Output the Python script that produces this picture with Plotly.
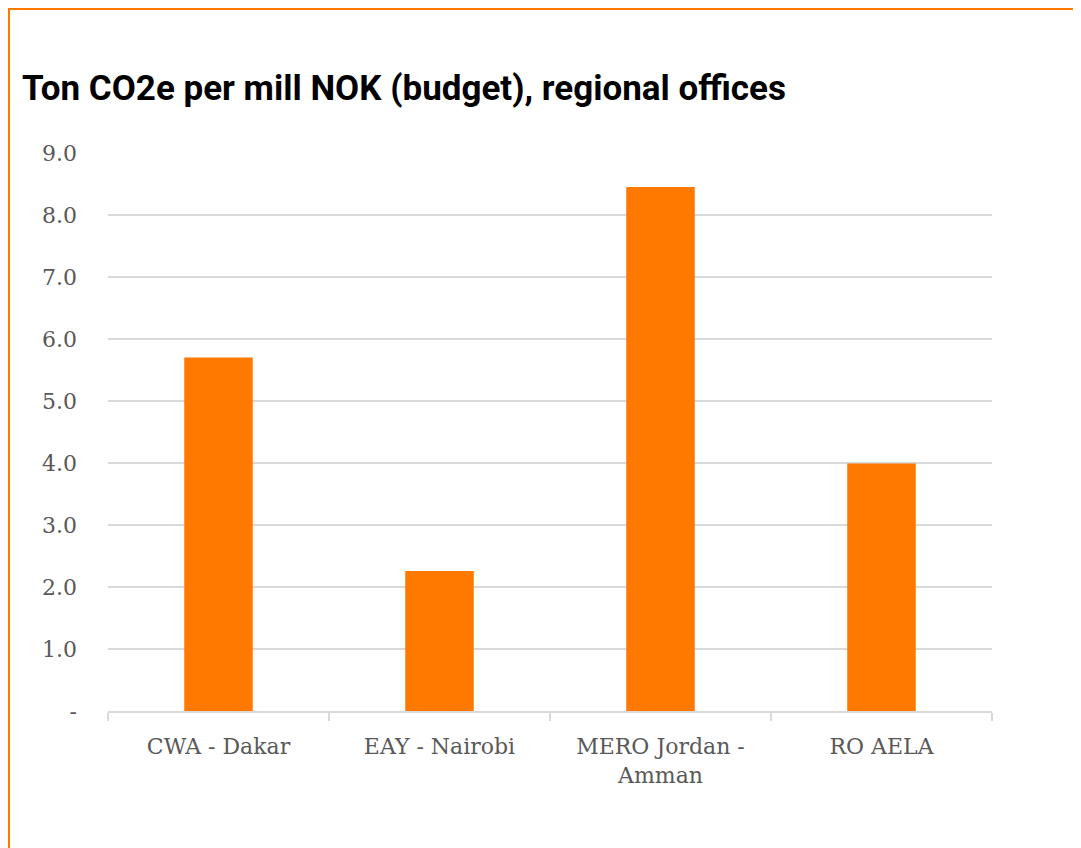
import plotly.graph_objects as go

# chart data
offices = ["CWA - Dakar", "EAY - Nairobi", "MERO Jordan -<br>Amman", "RO AELA"]
tons_per_mill = [5.7, 2.26, 8.45, 3.99]
y_ticks = [0, 1, 2, 3, 4, 5, 6, 7, 8, 9]
y_tick_text = ["-", "1.0", "2.0", "3.0", "4.0", "5.0", "6.0", "7.0", "8.0", "9.0"]

ORANGE = "#FF7800"
GRID = "#d9d9d9"
TEXT = "#595959"

W, H = 1081, 848
L, R, T, B = 100, 97, 145, 145

fig = go.Figure(
    go.Bar(
        x=offices,
        y=tons_per_mill,
        marker=dict(color=ORANGE, line=dict(width=0)),
        hoverinfo="x+y",
    )
)

# orange frame around the chart area (runs off the right and bottom edges)
pw, ph = W - L - R, H - T - B
fig.add_shape(
    type="rect",
    xref="paper",
    yref="paper",
    x0=(0 - L) / pw,
    x1=(W + 10 - L) / pw,
    y0=(H - B - (H + 10)) / ph,
    y1=(H - B - 0) / ph,
    line=dict(color=ORANGE, width=4),
    fillcolor="rgba(0,0,0,0)",
    layer="below",
)

fig.update_layout(
    width=W,
    height=H,
    margin=dict(l=L, r=R, t=T, b=B),
    paper_bgcolor="white",
    plot_bgcolor="white",
    bargap=0.69,
    showlegend=False,
    title=dict(
        text="<b>Ton CO2e per mill NOK (budget), regional offices</b>",
        font=dict(family="Roboto", size=35, color="black"),
        xref="container",
        yref="container",
        x=14 / W,
        xanchor="left",
        y=1 - 80 / H,
        yanchor="middle",
    ),
    font=dict(family="DejaVu Serif", size=22, color=TEXT),
    xaxis=dict(
        showline=True,
        linecolor=GRID,
        linewidth=1.5,
        ticks="outside",
        tickson="boundaries",
        ticklen=8,
        tickcolor=GRID,
        tickwidth=1.5,
        showgrid=False,
        ticklabelstandoff=15,
        tickfont=dict(family="DejaVu Serif", size=22, color=TEXT),
    ),
    yaxis=dict(
        range=[0, 9],
        tickvals=y_ticks,
        ticktext=y_tick_text,
        showgrid=True,
        gridcolor=GRID,
        gridwidth=1.5,
        zeroline=False,
        showline=False,
        ticks="",
        ticklabelstandoff=30,
        tickfont=dict(family="DejaVu Serif", size=22, color=TEXT),
    ),
)

fig.write_html("out.html")
